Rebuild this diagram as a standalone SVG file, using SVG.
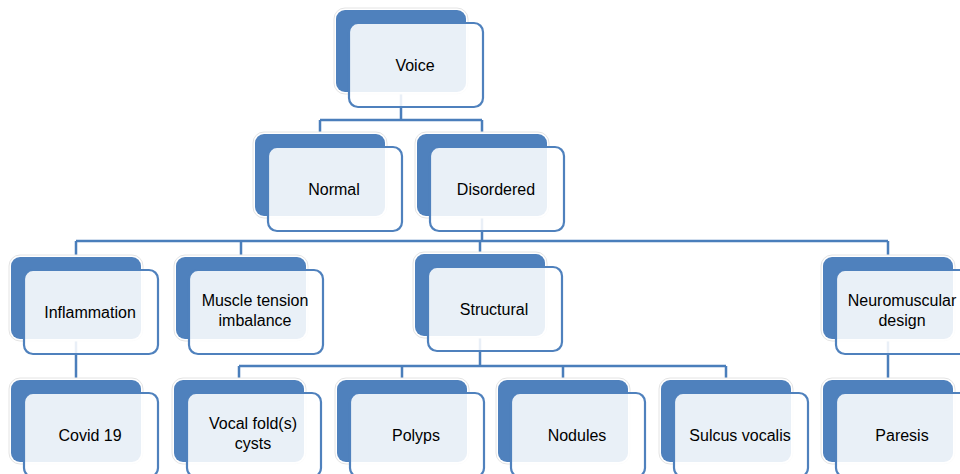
<svg xmlns="http://www.w3.org/2000/svg" width="960" height="474" viewBox="0 0 960 474">
  <style>
    .halo { fill: #ffffff; stroke: #e4e4e4; stroke-width: 1; }
    .back { fill: #4f81bd; }
    .front { fill: #ffffff; fill-opacity: 0.88; stroke: #4f81bd; stroke-width: 2.2; }
    .label { font-family: "Liberation Sans", Arial, sans-serif; font-size: 16px; fill: #000000; text-anchor: middle; }
    .wire { fill: none; stroke: #4a7ebb; stroke-width: 2.5; }
  </style>
  <defs>
    <!-- one hierarchy box: haloed back card plus translucent front card -->
    <g id="card">
      <rect class="halo" x="-2" y="-2" width="134" height="86" rx="11"/>
      <rect class="back" x="0" y="0" width="130" height="82" rx="9"/>
      <rect class="front" x="13" y="13" width="134" height="84" rx="9"/>
    </g>
  </defs>

  <rect width="960" height="474" fill="#ffffff"/>

  <!-- connectors (drawn first so the front cards partly veil them) -->
  <g id="connectors">
    <path class="wire" d="M401 92 V120 M320 120 H482 M320 120 V134 M482 120 V134"/>
    <path class="wire" d="M482 216 V241 M76 241 H888 M76 241 V257 M241 241 V257 M480 241 V254 M888 241 V257"/>
    <path class="wire" d="M76 339 V380"/>
    <path class="wire" d="M480 336 V366 M239 366 H726 M239 366 V380 M402 366 V380 M563 366 V380 M726 366 V380"/>
    <path class="wire" d="M888 339 V380"/>
  </g>

  <g id="voice" transform="translate(336,10)">
    <use href="#card"/>
    <text class="label" x="79" y="60.5">Voice</text>
  </g>
  <g id="normal" transform="translate(255,134)">
    <use href="#card"/>
    <text class="label" x="79" y="60.5">Normal</text>
  </g>
  <g id="disordered" transform="translate(417,134)">
    <use href="#card"/>
    <text class="label" x="79" y="60.5">Disordered</text>
  </g>
  <g id="inflammation" transform="translate(11,257)">
    <use href="#card"/>
    <text class="label" x="79" y="60.5">Inflammation</text>
  </g>
  <g id="muscle-tension" transform="translate(176,257)">
    <use href="#card"/>
    <text class="label" x="79" y="48.5">Muscle tension</text>
    <text class="label" x="79" y="68.5">imbalance</text>
  </g>
  <g id="structural" transform="translate(415,254)">
    <use href="#card"/>
    <text class="label" x="79" y="60.5">Structural</text>
  </g>
  <g id="neuromuscular" transform="translate(823,257)">
    <use href="#card"/>
    <text class="label" x="79" y="48.5">Neuromuscular</text>
    <text class="label" x="79" y="68.5">design</text>
  </g>
  <g id="covid" transform="translate(11,380)">
    <use href="#card"/>
    <text class="label" x="79" y="60.5">Covid 19</text>
  </g>
  <g id="cysts" transform="translate(174,380)">
    <use href="#card"/>
    <text class="label" x="79" y="48.5">Vocal fold(s)</text>
    <text class="label" x="79" y="68.5">cysts</text>
  </g>
  <g id="polyps" transform="translate(337,380)">
    <use href="#card"/>
    <text class="label" x="79" y="60.5">Polyps</text>
  </g>
  <g id="nodules" transform="translate(498,380)">
    <use href="#card"/>
    <text class="label" x="79" y="60.5">Nodules</text>
  </g>
  <g id="sulcus" transform="translate(661,380)">
    <use href="#card"/>
    <text class="label" x="79" y="60.5">Sulcus vocalis</text>
  </g>
  <g id="paresis" transform="translate(823,380)">
    <use href="#card"/>
    <text class="label" x="79" y="60.5">Paresis</text>
  </g>
</svg>
